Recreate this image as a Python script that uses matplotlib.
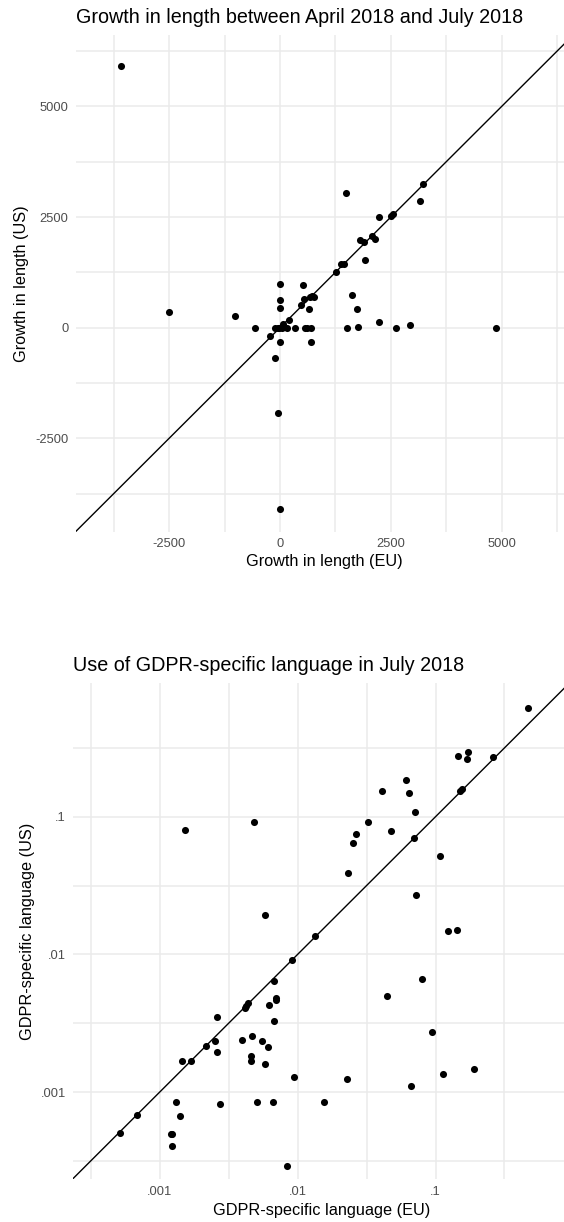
import numpy as np
import matplotlib
matplotlib.use("Agg")
from matplotlib import pyplot as plt
from matplotlib.ticker import FixedLocator, FixedFormatter

plt.rcParams['font.family'] = ['Liberation Sans', 'DejaVu Sans']

# growth in length between April and July 2018 (characters)
eu_growth = [-3590, 1490, 3230, 3160, 2235, 2505, 2545, 1815, 1890, 2075,
             2145, 1910, 1370, 1445, 1260, 1635, 1740, 1520, 1760, 2240,
             2610, 2930, 4870, -1010, -570, -2505, 0, 0, 0, 515,
             545, 485, 680, 730, 770, 645, -105, -55, -10, 45,
             170, 350, 560, 620, 700, 80, 195, -235, 0, 700,
             -120, -55, 0]
us_growth = [5910, 3050, 3255, 2865, 2500, 2530, 2575, 1980, 1930, 2080,
             2000, 1525, 1435, 1445, 1265, 730, 425, 0, 15, 135,
             0, 70, 0, 270, 0, 355, 980, 620, 450, 960,
             650, 505, 695, 715, 700, 415, 0, 0, 0, 0,
             0, 0, 0, 0, 0, 90, 165, -180, -315, -315,
             -690, -1920, -4095]

# share of GDPR-specific language, July 2018
eu_gdpr = [0.468, 0.173, 0.146, 0.169, 0.262, 0.0611, 0.0412, 0.0640, 0.150, 0.155,
           0.0705, 0.0325, 0.0479, 0.0267, 0.0254, 0.0694, 0.1086, 0.0232, 0.0721, 0.124,
           0.143, 0.00152, 0.00483, 0.00581, 0.01334, 0.00909, 0.0793, 0.0443, 0.0935, 0.1137,
           0.1897, 0.0659, 0.0229, 0.0156, 0.00936, 0.00842, 0.00659, 0.00506, 0.00274, 0.00131,
           0.00140, 0.00121, 0.00122, 0.00123, 0.000682, 0.000519, 0.00144, 0.00168, 0.00216, 0.00251,
           0.00258, 0.00262, 0.00412, 0.00423, 0.00435, 0.00670, 0.00621, 0.00692, 0.00700, 0.00670,
           0.00392, 0.00468, 0.00552, 0.00610, 0.00459, 0.00459, 0.00583]
us_gdpr = [0.615, 0.294, 0.275, 0.262, 0.270, 0.186, 0.153, 0.149, 0.153, 0.158,
           0.108, 0.0910, 0.0785, 0.0748, 0.0648, 0.0703, 0.0515, 0.0387, 0.0268, 0.0147,
           0.0151, 0.0805, 0.0914, 0.0193, 0.01351, 0.00915, 0.00666, 0.00498, 0.00273, 0.00136,
           0.00148, 0.00111, 0.00124, 0.000845, 0.00129, 0.000292, 0.000845, 0.000845, 0.000824, 0.000845,
           0.000667, 0.000493, 0.000496, 0.000404, 0.000678, 0.000507, 0.00169, 0.00168, 0.00216, 0.00233,
           0.00196, 0.00351, 0.00410, 0.00425, 0.00441, 0.00637, 0.00429, 0.00480, 0.00466, 0.00330,
           0.00237, 0.00255, 0.00233, 0.00212, 0.00182, 0.00168, 0.00161]

growth_ticks = [-2500, 0, 2500, 5000]
growth_minor = [-3750, -1250, 1250, 3750, 6250]
gdpr_ticks = [0.001, 0.01, 0.1]
gdpr_tick_labels = ['.001', '.01', '.1']
gdpr_minor = [10 ** -3.5, 10 ** -2.5, 10 ** -1.5, 10 ** -0.5]

GRID = '#EBEBEB'
TICK_COLOR = '#4D4D4D'
W, H = 564, 1222


def style_axes(ax):
    for s in ax.spines.values():
        s.set_visible(False)
    ax.grid(True, which='both', color=GRID, linewidth=1.1)
    ax.set_axisbelow(True)
    ax.tick_params(which='both', length=0, labelsize=9.3, labelcolor=TICK_COLOR)
    ax.tick_params(axis='x', pad=4.5)
    ax.tick_params(axis='y', pad=5.5)


def place_labels(ax, xlab, ylab, xlab_y, ylab_x):
    ax.set_xlabel(xlab, fontsize=11.7, va='center')
    ax.set_ylabel(ylab, fontsize=11.7, va='center')
    ax.xaxis.set_label_coords(0.5, xlab_y)
    ax.yaxis.set_label_coords(ylab_x, 0.5)


fig = plt.figure(figsize=(W / 100, H / 100), dpi=100)

# top panel: growth in length
ax1 = fig.add_axes([76 / W, 1 - 531.7 / H, 497 / W, 496.7 / H])
style_axes(ax1)
ax1.scatter(eu_growth, us_growth, s=26, color='black', linewidths=0, zorder=3)
ax1.axline((0, 0), slope=1, color='black', linewidth=1.0, zorder=2)
ax1.set_xlim(-4600, 6610)
ax1.set_ylim(-4610, 6615)
ax1.xaxis.set_major_locator(FixedLocator(growth_ticks))
ax1.yaxis.set_major_locator(FixedLocator(growth_ticks))
ax1.xaxis.set_minor_locator(FixedLocator(growth_minor))
ax1.yaxis.set_minor_locator(FixedLocator(growth_minor))
ax1.set_xticklabels([str(t) for t in growth_ticks])
ax1.set_yticklabels([str(t) for t in growth_ticks])
place_labels(ax1, 'Growth in length (EU)', 'Growth in length (US)', -0.0604, -0.1095)
fig.text(76 / W, 1 - 22.7 / H, 'Growth in length between April 2018 and July 2018',
         fontsize=14.2, ha='left', va='baseline')

# bottom panel: GDPR-specific language
ax2 = fig.add_axes([73.3 / W, 1 - 1179.3 / H, 496 / W, 496 / H])
style_axes(ax2)
ax2.set_xscale('log')
ax2.set_yscale('log')
ax2.scatter(eu_gdpr, us_gdpr, s=26, color='black', linewidths=0, zorder=3)
ax2.axline((0.001, 0.001), (0.1, 0.1), color='black', linewidth=1.0, zorder=2)
ax2.set_xlim(10 ** -3.627, 10 ** -0.03)
ax2.set_ylim(10 ** -3.634, 10 ** -0.031)
for axis in (ax2.xaxis, ax2.yaxis):
    axis.set_major_locator(FixedLocator(gdpr_ticks))
    axis.set_major_formatter(FixedFormatter(gdpr_tick_labels))
    axis.set_minor_locator(FixedLocator(gdpr_minor))
    axis.set_minor_formatter(FixedFormatter([]))
place_labels(ax2, 'GDPR-specific language (EU)', 'GDPR-specific language (US)', -0.0619, -0.0933)
fig.text(73.3 / W, 1 - 670.7 / H, 'Use of GDPR-specific language in July 2018',
         fontsize=14.2, ha='left', va='baseline')

fig.savefig('out.png', dpi=100)
